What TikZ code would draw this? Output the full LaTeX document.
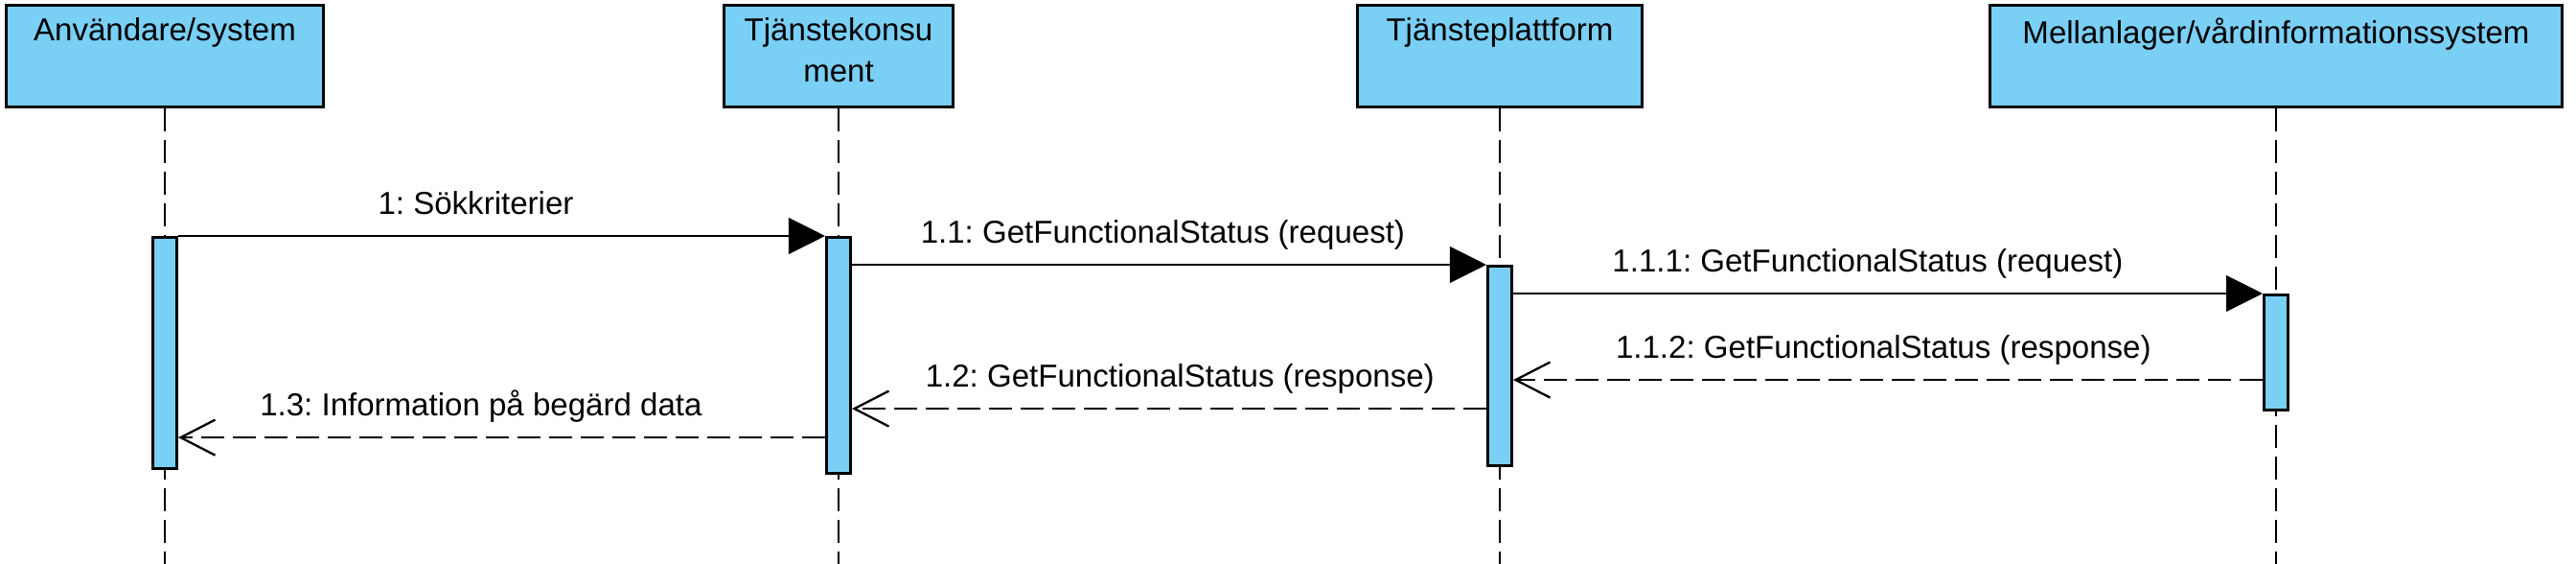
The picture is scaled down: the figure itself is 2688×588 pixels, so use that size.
\documentclass[tikz,border=0pt]{standalone}
\usepackage{fontspec}
\setmainfont{Liberation Sans}
\frenchspacing
\usetikzlibrary{positioning, arrows.meta, calc}
\definecolor{lifeblue}{RGB}{122,207,245}

\begin{document}
\begin{tikzpicture}[
		x=0.01cm, y=-0.01cm,
		font=\fontsize{9.4}{12.2}\selectfont,
		head/.style={draw=black, fill=lifeblue, line width=0.85pt, minimum height=1.06cm, inner sep=0pt},
		headtext/.style={anchor=north, align=center, inner sep=0pt, yshift=-0.14cm},
		lifeline/.style={line width=0.55pt, dash pattern=on 0.24cm off 0.09cm},
		activation/.style={draw=black, fill=lifeblue, line width=0.85pt, minimum width=0.25cm, inner sep=0pt, anchor=north},
		call/.style={-{Triangle[length=0.38cm, width=0.375cm]}, line width=0.75pt},
		reply/.style={-{Straight Barb[length=0.36cm, width=0.37cm]}, line width=0.65pt, dash pattern=on 0.24cm off 0.09cm},
		msg/.style={anchor=base, yshift=0.225cm, inner sep=0pt}
		]
		
		\useasboundingbox (0,0) rectangle (2688,588);
		\coordinate (bottom) at (0,588);
		
		% --- Lifeline heads ---
		\node[head, minimum width=3.31cm] (anv) at (172, 58.4) {};
		\node[head, minimum width=2.38cm] (kons) at (875, 58.4) {};
		\node[head, minimum width=2.97cm] (plat) at (1565, 58.4) {};
		\node[head, minimum width=5.97cm] (mell) at (2375, 58.4) {};
		
		\node[headtext] (anvtext) at (anv.north) {Användare/system};
		\node[headtext] (konstext) at (kons.north) {Tjänstekonsu\\ment};
		\node[headtext] (plattext) at (plat.north) {Tjänsteplattform};
		\node[headtext] (melltext) at (mell.north) {Mellanlager/vårdinformationssystem};
		
		% Dashed lifelines down to the bottom edge
		\foreach \h in {anv, kons, plat, mell}
		\draw[lifeline] (\h.south) -- (\h.south |- bottom);
		
		% --- Activation bars ---
		\node[activation, minimum height=2.41cm] (act1) at (172, 246) {};
		\node[activation, minimum height=2.46cm] (act2) at (875, 246) {};
		\node[activation, minimum height=2.08cm] (act3) at (1565, 276) {};
		\node[activation, minimum height=1.20cm] (act4) at (2375, 306) {};
		
		% --- Calls ---
		\draw[call] (act1.north east) -- (act2.north west)
		node[msg, pos=0.46] {1: Sökkriterier};
		
		\draw[call] (act3.north west -| act2.east) -- (act3.north west)
		node[msg, pos=0.49] {1.1: GetFunctionalStatus (request)};
		
		\draw[call] (act4.north west -| act3.east) -- (act4.north west)
		node[msg, pos=0.473] {1.1.1: GetFunctionalStatus (request)};
		
		% --- Replies ---
		\draw[reply] ([yshift=-0.9cm]act4.north west) -- ([yshift=-0.9cm]act4.north west -| act3.east)
		node[msg, pos=0.506] {1.1.2: GetFunctionalStatus (response)};
		
		\draw[reply] ([yshift=-1.5cm]act3.north west) -- ([yshift=-1.5cm]act3.north west -| act2.east)
		node[msg, pos=0.483] {1.2: GetFunctionalStatus (response)};
		
		\draw[reply] ([yshift=-2.1cm]act2.north west) -- ([yshift=-2.1cm]act2.north west -| act1.east)
		node[msg, pos=0.532] {1.3: Information på begärd data};
		
\end{tikzpicture}
\end{document}
